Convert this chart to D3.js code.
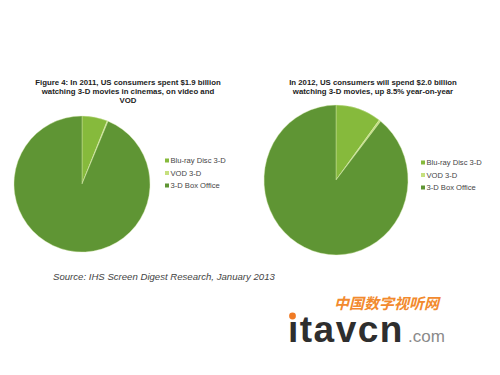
<!DOCTYPE html>
<html>
<head>
<meta charset="utf-8">
<script src="https://cdn.jsdelivr.net/npm/d3@7"></script>
<style>
  body { margin: 0; background: #fff; }
  svg { display: block; }
</style>
</head>
<body>
<div id="chart"></div>
<script>
// categories and values ($ millions)
var categories = ["Blu-ray Disc 3-D", "VOD 3-D", "3-D Box Office"];
var values2011 = [115, 4, 1781];
var values2012 = [205, 8, 1787];
var titles2011 = ["Figure 4: In 2011, US consumers spent $1.9 billion",
                  "watching  3-D movies in cinemas, on video and", "VOD"];
var titles2012 = ["In 2012, US consumers will spend $2.0 billion",
                  "watching  3-D movies, up 8.5% year-on-year"];
var sourceText = "Source: IHS Screen Digest Research, January 2013";

var width = 500, height = 375;

var color = d3.scaleOrdinal()
  .domain(categories)
  .range(["#86ba3c", "#c6e07e", "#5f9534"]);

var svg = d3.select("#chart").append("svg")
  .attr("width", width)
  .attr("height", height);

var pie = d3.pie().sort(null).value(function(d) { return d.value; });

function drawPie(values, titles, opts) {
  var data = categories.map(function(c, i) { return { key: c, value: values[i] }; });
  var g = svg.append("g");

  // title
  g.selectAll(".title").data(titles).enter().append("text")
    .attr("class", "title")
    .attr("x", opts.titleX)
    .attr("y", function(d, i) { return opts.titleY + i * 9; })
    .attr("text-anchor", "middle")
    .style("font-family", "Arial, 'Liberation Sans', sans-serif")
    .style("font-weight", "bold")
    .style("font-size", "7.8px")
    .style("fill", "#222")
    .text(function(d) { return d; });

  var arc = d3.arc().innerRadius(0).outerRadius(opts.r);
  var pg = g.append("g")
    .attr("transform", "translate(" + opts.cx + "," + opts.cy + ") scale(1," + opts.sy + ")");
  pg.selectAll("path").data(pie(data)).enter().append("path")
    .attr("d", arc)
    .attr("fill", function(d) { return color(d.data.key); })
    .attr("stroke", "#d8ebb0")
    .attr("stroke-width", 0.4);

  // legend
  var lg = g.append("g").attr("transform", "translate(" + opts.legX + "," + opts.legY + ")");
  var item = lg.selectAll(".item").data(categories).enter().append("g")
    .attr("class", "item")
    .attr("transform", function(d, i) { return "translate(0," + i * 12.5 + ")"; });
  item.append("rect")
    .attr("x", 0).attr("y", -4.5)
    .attr("width", 4).attr("height", 4)
    .attr("fill", function(d) { return color(d); });
  item.append("text")
    .attr("x", 5.5).attr("y", 0)
    .style("font-family", "Arial, 'Liberation Sans', sans-serif")
    .style("font-size", "7.6px")
    .style("fill", "#444")
    .text(function(d) { return d; });
}

drawPie(values2011, titles2011, {
  titleX: 128, titleY: 85, cx: 82, cy: 184, r: 68, sy: 1.0,
  legX: 165, legY: 163
});
drawPie(values2012, titles2012, {
  titleX: 373, titleY: 85, cx: 336, cy: 180, r: 72, sy: 1.04,
  legX: 421, legY: 165
});

// source note
svg.append("text")
  .attr("x", 53).attr("y", 280)
  .style("font-family", "Arial, 'Liberation Sans', sans-serif")
  .style("font-style", "italic")
  .style("font-size", "9.6px")
  .style("fill", "#444")
  .text(sourceText);

// watermark logo
var logo = svg.append("g");
logo.append("text")
  .attr("x", 334).attr("y", 309)
  .style("font-family", "'Noto Sans CJK SC', sans-serif")
  .style("font-weight", "bold")
  .style("font-style", "italic")
  .style("font-size", "15px")
  .style("fill", "#f28a2e")
  .text("中国数字视听网");
logo.append("text")
  .attr("x", 288).attr("y", 342)
  .style("font-family", "Arial, 'Liberation Sans', sans-serif")
  .style("font-weight", "bold")
  .style("font-size", "37px")
  .style("letter-spacing", "1.5px")
  .style("fill", "#2e2e2e")
  .text("ıtavcn");
logo.append("circle")
  .attr("cx", 292.5).attr("cy", 316).attr("r", 3.4)
  .attr("fill", "#f07a24");
logo.append("text")
  .attr("x", 408).attr("y", 342)
  .style("font-family", "Arial, 'Liberation Sans', sans-serif")
  .style("font-size", "17px")
  .style("fill", "#8a8a8a")
  .text(".com");
</script>
</body>
</html>
